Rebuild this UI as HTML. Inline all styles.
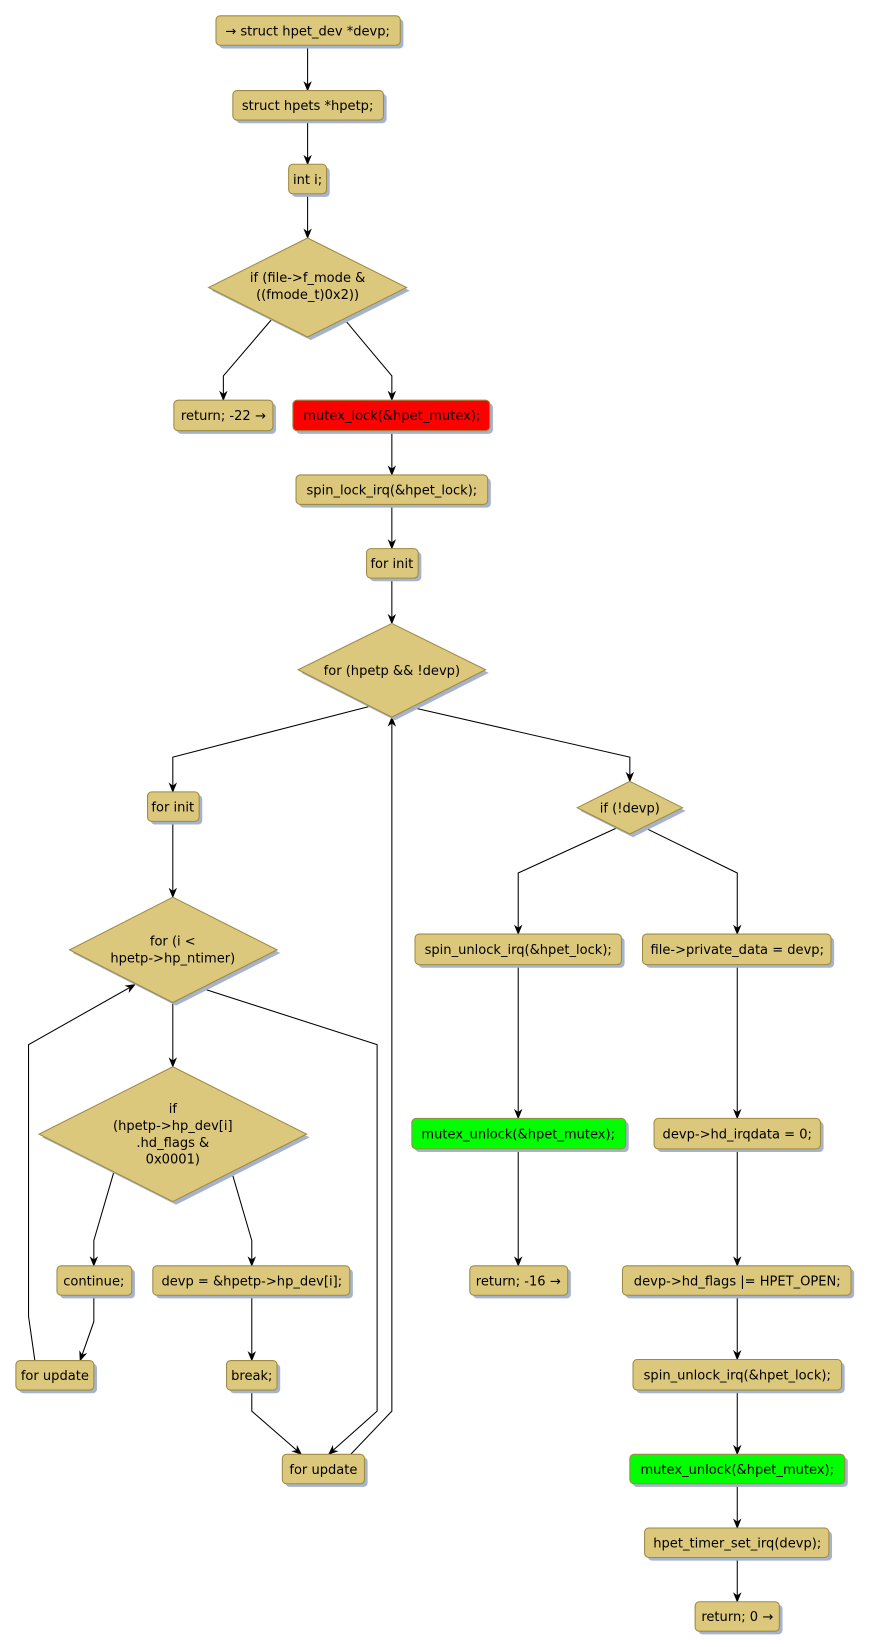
<!DOCTYPE html>
<html><head><meta charset="utf-8"><style>
html,body{margin:0;padding:0;background:#fff;}
svg{display:block}
text{font-family:"DejaVu Sans","Liberation Sans",sans-serif;font-size:12.4px;fill:#000;text-anchor:middle}
.s{fill:#a6b3cc}
.b{fill:#dcc87c;stroke:#9e8a42;stroke-width:1}
.r{fill:#ff0000;stroke:#9e8a42}
.g{fill:#00ff00;stroke:#9e8a42}
.l{fill:none;stroke:#000;stroke-width:1}
</style></head><body>
<svg width="869" height="1647" viewBox="0 0 825 1564" xmlns="http://www.w3.org/2000/svg">
<defs><marker id="a" markerWidth="10" markerHeight="10" refX="9" refY="5" orient="auto" markerUnits="userSpaceOnUse"><path d="M0,1 L10,5 L0,9 L3,5 z" fill="#000"/></marker></defs>

<!-- edges -->
<g class="l" marker-end="url(#a)">
<path d="M292,43 V86"/>
<path d="M292,114 V156"/>
<path d="M292,184 V226"/>
<path d="M259,302 L212,357 V380"/>
<path d="M326,302 L372,357 V380"/>
<path d="M372,409 V451"/>
<path d="M372,479 V521"/>
<path d="M372,549 V592"/>
<path d="M350,671 L164,719 V752"/>
<path d="M392,672 L598,719 V742"/>
<path d="M164,780 V852"/>
<path d="M164,952 V1013"/>
<path d="M190,938 L358,992 V1340 L312,1381"/>
<path d="M33,1292 L27,1250 V992 L128,935"/>
<path d="M108,1113 L89,1178 V1202"/>
<path d="M220,1113 L239,1178 V1202"/>
<path d="M89,1230 V1255 L76,1292"/>
<path d="M239,1230 V1292"/>
<path d="M239,1320 V1340 L286,1381"/>
<path d="M333,1381 L372,1340 V681"/>
<path d="M586,786 L492,829 V887"/>
<path d="M612,786 L700,829 V887"/>
<path d="M492,916 V1062"/>
<path d="M492,1091 V1202"/>
<path d="M700,916 V1062"/>
<path d="M700,1091 V1202"/>
<path d="M700,1230 V1291"/>
<path d="M700,1320 V1381"/>
<path d="M700,1409 V1451"/>
<path d="M700,1479 V1521"/>
</g>

<!-- boxes -->
<g>
<rect class="s" x="208" y="18" width="175" height="28" rx="4"/><rect class="b" x="205" y="15" width="175" height="28" rx="4"/><text x="292" y="33.5">→ struct hpet_dev *devp;</text>
<rect class="s" x="224" y="89" width="143" height="28" rx="4"/><rect class="b" x="221" y="86" width="143" height="28" rx="4"/><text x="292" y="104.5">struct hpets *hpetp;</text>
<rect class="s" x="277" y="159" width="36" height="28" rx="4"/><rect class="b" x="274" y="156" width="36" height="28" rx="4"/><text x="292" y="174.5">int i;</text>

<polygon class="s" points="295,229 389,276 295,323 201,276"/><polygon class="b" points="292,226 386,273 292,320 198,273"/>
<text x="292" y="268">if (file-&gt;f_mode &amp;</text><text x="292" y="284">((fmode_t)0x2))</text>

<rect class="s" x="168" y="383" width="94" height="29" rx="4"/><rect class="b" x="165" y="380" width="94" height="29" rx="4"/><text x="212" y="399">return; -22 →</text>
<rect class="s" x="281" y="383" width="187" height="29" rx="4"/><rect class="r" x="278" y="380" width="187" height="29" rx="4"/><text x="372" y="399">mutex_lock(&amp;hpet_mutex);</text>
<rect class="s" x="284" y="454" width="182" height="28" rx="4"/><rect class="b" x="281" y="451" width="182" height="28" rx="4"/><text x="372" y="469.5">spin_lock_irq(&amp;hpet_lock);</text>
<rect class="s" x="351" y="524" width="49" height="28" rx="4"/><rect class="b" x="348" y="521" width="49" height="28" rx="4"/><text x="372" y="539.5">for init</text>

<polygon class="s" points="375,595 464,639 375,684 286,639"/><polygon class="b" points="372,592 461,636 372,681 283,636"/>
<text x="372" y="641">for (hpetp &amp;&amp; !devp)</text>

<rect class="s" x="143" y="755" width="49" height="28" rx="4"/><rect class="b" x="140" y="752" width="49" height="28" rx="4"/><text x="164" y="770.5">for init</text>

<polygon class="s" points="167,855 266,905 167,955 69,905"/><polygon class="b" points="164,852 263,902 164,952 66,902"/>
<text x="164" y="898">for (i &lt;</text><text x="164" y="914">hpetp-&gt;hp_ntimer)</text>

<polygon class="s" points="167,1016 294,1080 167,1144 40,1080"/><polygon class="b" points="164,1013 291,1077 164,1141 37,1077"/>
<text x="164" y="1057">if</text><text x="164" y="1073">(hpetp-&gt;hp_dev[i]</text><text x="164" y="1089">.hd_flags &amp;</text><text x="164" y="1105">0x0001)</text>

<rect class="s" x="57" y="1205" width="71" height="28" rx="4"/><rect class="b" x="54" y="1202" width="71" height="28" rx="4"/><text x="89" y="1220.5">continue;</text>
<rect class="s" x="148" y="1205" width="187" height="28" rx="4"/><rect class="b" x="145" y="1202" width="187" height="28" rx="4"/><text x="239" y="1220.5">devp = &amp;hpetp-&gt;hp_dev[i];</text>
<rect class="s" x="18" y="1295" width="74" height="28" rx="4"/><rect class="b" x="15" y="1292" width="74" height="28" rx="4"/><text x="52" y="1310.5">for update</text>
<rect class="s" x="218" y="1295" width="48" height="28" rx="4"/><rect class="b" x="215" y="1292" width="48" height="28" rx="4"/><text x="239" y="1310.5">break;</text>
<rect class="s" x="271" y="1384" width="78" height="28" rx="4"/><rect class="b" x="268" y="1381" width="78" height="28" rx="4"/><text x="307" y="1399.5">for update</text>

<polygon class="s" points="601,745 651,770 601,795 551,770"/><polygon class="b" points="598,742 648,767 598,792 548,767"/>
<text x="598" y="771.5">if (!devp)</text>

<rect class="s" x="397" y="890" width="196" height="29" rx="4"/><rect class="b" x="394" y="887" width="196" height="29" rx="4"/><text x="492" y="906">spin_unlock_irq(&amp;hpet_lock);</text>
<rect class="s" x="613" y="890" width="179" height="29" rx="4"/><rect class="b" x="610" y="887" width="179" height="29" rx="4"/><text x="700" y="906">file-&gt;private_data = devp;</text>
<rect class="s" x="394" y="1065" width="203" height="29" rx="4"/><rect class="g" x="391" y="1062" width="203" height="29" rx="4"/><text x="492" y="1081">mutex_unlock(&amp;hpet_mutex);</text>
<rect class="s" x="624" y="1065" width="158" height="29" rx="4"/><rect class="b" x="621" y="1062" width="158" height="29" rx="4"/><text x="700" y="1081">devp-&gt;hd_irqdata = 0;</text>
<rect class="s" x="449" y="1205" width="93" height="28" rx="4"/><rect class="b" x="446" y="1202" width="93" height="28" rx="4"/><text x="492" y="1220.5">return; -16 →</text>
<rect class="s" x="594" y="1205" width="217" height="28" rx="4"/><rect class="b" x="591" y="1202" width="217" height="28" rx="4"/><text x="700" y="1220.5">devp-&gt;hd_flags |= HPET_OPEN;</text>
<rect class="s" x="604" y="1294" width="198" height="29" rx="4"/><rect class="b" x="601" y="1291" width="198" height="29" rx="4"/><text x="700" y="1310">spin_unlock_irq(&amp;hpet_lock);</text>
<rect class="s" x="601" y="1384" width="204" height="28" rx="4"/><rect class="g" x="598" y="1381" width="204" height="28" rx="4"/><text x="700" y="1399.5">mutex_unlock(&amp;hpet_mutex);</text>
<rect class="s" x="615" y="1454" width="175" height="28" rx="4"/><rect class="b" x="612" y="1451" width="175" height="28" rx="4"/><text x="700" y="1469.5">hpet_timer_set_irq(devp);</text>
<rect class="s" x="663" y="1524" width="80" height="28" rx="4"/><rect class="b" x="660" y="1521" width="80" height="28" rx="4"/><text x="700" y="1539.5">return; 0 →</text>
</g>
</svg>
</body></html>
